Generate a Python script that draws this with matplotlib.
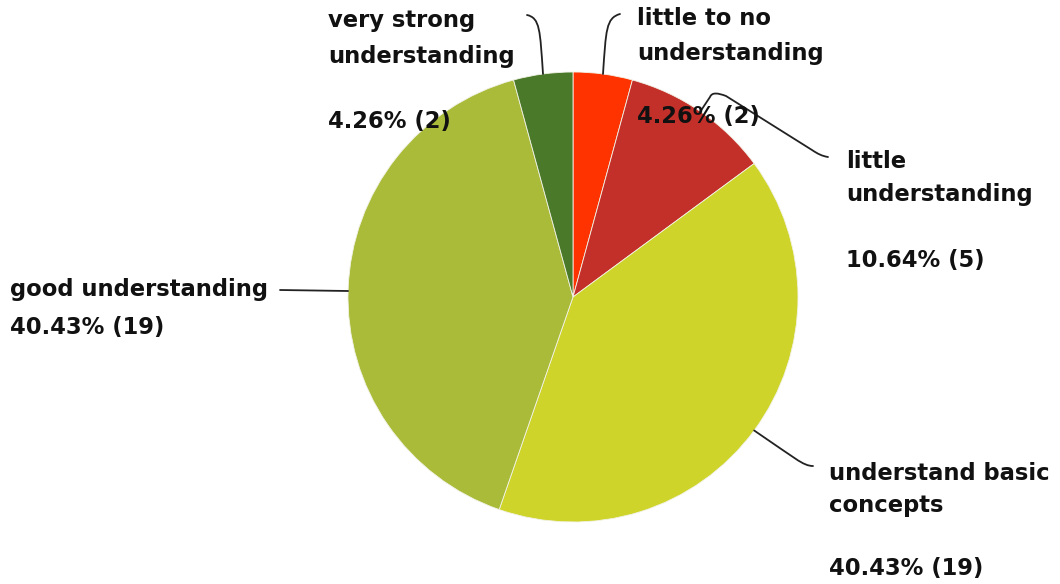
import numpy as np
import matplotlib
matplotlib.use("Agg")
import matplotlib.pyplot as plt
from matplotlib.path import Path
from matplotlib.patches import PathPatch

# ---- data ----
categories = ["little to no\nunderstanding", "little\nunderstanding",
              "understand basic\nconcepts", "good understanding",
              "very strong\nunderstanding"]
counts = [2, 5, 19, 19, 2]
colors = ["#FF3300", "#C3302A", "#CED42A", "#A9BB38", "#4A7A29"]

W, H = 1060, 584
fig = plt.figure(figsize=(W / 100, H / 100), dpi=100)
ax = fig.add_axes([0, 0, 1, 1])

cx, cy, R = 573, H - 297, 225
total = sum(counts)
ax.pie(counts, colors=colors, startangle=90, counterclock=False,
       center=(cx, cy), radius=R,
       wedgeprops=dict(edgecolor="#F2F2E6", linewidth=0.6))
ax.set_xlim(0, W)
ax.set_ylim(0, H)
ax.set_aspect("equal")
ax.axis("off")

pcts = [f"{100 * c / total:.2f}% ({c})" for c in counts]

# mid-angle anchor on pie edge for each slice
angles = []
a0 = 90.0
for c in counts:
    span = 360.0 * c / total
    angles.append(a0 - span / 2)
    a0 -= span
anchors = [(cx + R * np.cos(np.radians(a)), cy + R * np.sin(np.radians(a))) for a in angles]

font = dict(family="DejaVu Sans", fontweight="bold", fontsize=16.3, color="#111111")

# label layouts: (x, baselines for lines, baseline for percentage) in pixel rows from top
layout = [
    (637, [25, 60], 123),
    (846, [168, 201], 267),
    (829, [480, 512], 575),
    (10, [296], 334),
    (328, [27, 63], 128),
]
for (x, bls, pb), cat, pct in zip(layout, categories, pcts):
    for line, b in zip(cat.split("\n"), bls):
        ax.text(x, H - b, line, ha="left", va="baseline", **font)
    ax.text(x, H - pb, pct, ha="left", va="baseline", **font)


def leader(start, points, codes):
    pts = [start] + [(p[0], H - p[1]) for p in points]
    ax.add_patch(PathPatch(Path(pts, codes), fill=False, lw=1.3, edgecolor="#222222",
                           capstyle="round", joinstyle="round"))


M, L, C = Path.MOVETO, Path.LINETO, Path.CURVE4
# little to no
leader(anchors[0], [(606, 30), (606, 18), (620, 14)], [M, C, C, C])
# little understanding
leader(anchors[1], [(710, 97), (712, 92), (718, 93), (726, 96),
                    (812, 150), (818, 154), (822, 156), (828, 157)],
       [M, L, C, C, C, L, C, C, C])
# understand basic concepts
leader(anchors[2], [(795, 458), (803, 466), (813, 466)], [M, C, C, C])
# good understanding
gy = H - 291
leader((cx - np.sqrt(R**2 - (cy - gy)**2), gy), [(280, 290)], [M, L])
# very strong
leader(anchors[4], [(540, 30), (540, 18), (527, 15)], [M, C, C, C])

fig.savefig("out.png", dpi=100, facecolor="white")
